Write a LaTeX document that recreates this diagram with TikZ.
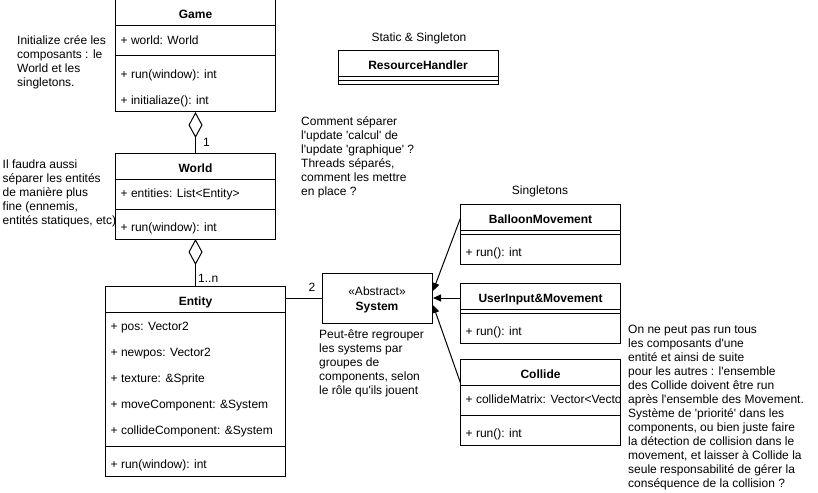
\documentclass[tikz,border=0pt]{standalone}
\usepackage{fontspec}
\newfontfamily\dfont{Liberation Sans}
\usetikzlibrary{arrows.meta}
\begin{document}
\begin{tikzpicture}[x=1pt,y=-1pt,
  font=\dfont\fontsize{12}{14}\selectfont,
  cls/.style={draw, line width=1pt, fill=white, inner sep=0pt, outer sep=0pt, anchor=north west},
  ttl/.style={font=\dfont\fontsize{12}{14}\selectfont\bfseries, inner sep=0pt, anchor=base},
  mem/.style={anchor=base west, inner sep=0pt},
  lbl/.style={inner sep=0pt, anchor=base},
  note/.style={align=left, anchor=west, inner sep=0pt},
  sepline/.style={line width=1pt},
  assoc/.style={line width=1pt},
  agg/.style={line width=1pt, {Diamond[open,length=26pt,width=14pt]}-},
  gen/.style={line width=1pt, -{Triangle[length=8pt,width=7pt]}}
]
\useasboundingbox (0,0) rectangle (818,492);

% Game
\node[cls, minimum width=160pt, minimum height=112pt] (game) at (115.5,0) {};
\draw[sepline] (115.5,26) -- (275.5,26);
\draw[sepline] (115.5,56) -- (275.5,56);
\node[ttl] (gameT) at (195.5,19) {Game};
\node[mem] (gameA1) at (120.5,44.3) {+ world: World};
\node[mem] (gameM1) at (120.5,78.3) {+ run(window): int};
\node[mem] (gameM2) at (120.5,104.3) {+ initialiaze(): int};

% World
\node[cls, minimum width=160pt, minimum height=86pt] (world) at (115.5,153) {};
\draw[sepline] (115.5,179) -- (275.5,179);
\draw[sepline] (115.5,209) -- (275.5,209);
\node[ttl] (worldT) at (195.5,172) {World};
\node[mem] (worldA1) at (120.5,197.3) {+ entities: List<Entity>};
\node[mem] (worldM1) at (120.5,231.3) {+ run(window): int};

% Entity
\node[cls, minimum width=180pt, minimum height=190pt] (entity) at (105.5,286.5) {};
\draw[sepline] (105.5,312.5) -- (285.5,312.5);
\draw[sepline] (105.5,446.5) -- (285.5,446.5);
\node[ttl] (entityT) at (195.5,305.5) {Entity};
\node[mem] (entA1) at (110.5,330.8) {+ pos: Vector2};
\node[mem] (entA2) at (110.5,356.8) {+ newpos: Vector2};
\node[mem] (entA3) at (110.5,382.8) {+ texture: \&Sprite};
\node[mem] (entA4) at (110.5,408.8) {+ moveComponent: \&System};
\node[mem] (entA5) at (110.5,434.8) {+ collideComponent: \&System};
\node[mem] (entM1) at (110.5,468.8) {+ run(window): int};

% System
\node[cls, minimum width=110pt, minimum height=50pt] (system) at (322,273) {};
\node[lbl] (sysS) at (377,295.5) {«Abstract»};
\node[ttl] (sysT) at (377,310) {System};

% ResourceHandler
\node[lbl] (rhLbl) at (419,42) {Static \& Singleton};
\node[cls, minimum width=160pt, minimum height=34pt] (rh) at (338,51) {};
\draw[sepline] (338,77) -- (498,77);
\draw[sepline] (338,81) -- (498,81);
\node[ttl] (rhT) at (418,70) {ResourceHandler};

% Singletons
\node[lbl] (sgLbl) at (540,194) {Singletons};

\node[cls, minimum width=160pt, minimum height=60pt] (balloon) at (460.5,204.5) {};
\draw[sepline] (460.5,230.5) -- (620.5,230.5);
\draw[sepline] (460.5,234.5) -- (620.5,234.5);
\node[ttl] (balloonT) at (540.5,223.5) {BalloonMovement};
\node[mem] (balloonM1) at (465.5,256.8) {+ run(): int};

\node[cls, minimum width=160pt, minimum height=60pt] (user) at (460.5,283) {};
\draw[sepline] (460.5,309) -- (620.5,309);
\draw[sepline] (460.5,313) -- (620.5,313);
\node[ttl] (userT) at (540.5,302) {UserInput\&Movement};
\node[mem] (userM1) at (465.5,335.3) {+ run(): int};

\node[cls, minimum width=160pt, minimum height=86pt] (collide) at (460.5,359) {};
\draw[sepline] (460.5,385) -- (620.5,385);
\draw[sepline] (460.5,415) -- (620.5,415);
\node[ttl] (collideT) at (540.5,378) {Collide};
\begin{scope}
  \clip (461,386) rectangle (620,414);
  \node[mem] (collideA1) at (465.5,403.3) {+ collideMatrix: Vector<Vecto};
\end{scope}
\node[mem] (collideM1) at (465.5,437.3) {+ run(): int};

% Connectors
\draw[agg] (game.south) -- (world.north);
\node[lbl, anchor=base west] (mult1) at (203,146) {1};
\draw[agg] (world.south) -- (entity.north);
\node[lbl, anchor=base west] (multn) at (198,282.5) {1..n};
\draw[assoc] (entity.east |- system.west) -- (system.west);
\node[lbl] (mult2) at (312,291.5) {2};

\coordinate (bH) at (460.5,218);
\coordinate (uH) at (460.5,298);
\coordinate (cH) at (460.5,383);
\coordinate (sA) at (433,291);
\coordinate (sB) at (433,298);
\coordinate (sC) at (433,305);
\draw[gen] (bH) -- (sA);
\draw[gen] (uH) -- (sB);
\draw[gen] (cH) -- (sC);

% Notes
\node[note] (n1) at (17,62) {Initialize crée les\\composants : le\\World et les\\singletons.};
\node[note] (n2) at (2.5,193.5) {Il faudra aussi\\séparer les entités\\de manière plus\\fine (ennemis,\\entités statiques, etc)};
\node[note] (n3) at (301,157) {Comment séparer\\l'update 'calcul' de\\l'update 'graphique' ?\\Threads séparés,\\comment les mettre\\en place ?};
\node[note] (n4) at (319,363.5) {Peut-être regrouper\\les systems par\\groupes de\\components, selon\\le rôle qu'ils jouent};
\node[note] (n5) at (628,408) {On ne peut pas run tous\\les composants d'une\\entité et ainsi de suite\\pour les autres : l'ensemble\\des Collide doivent être run\\après l'ensemble des Movement.\\Système de 'priorité' dans les\\components, ou bien juste faire\\la détection de collision dans le\\movement, et laisser à Collide la\\seule responsabilité de gérer la\\conséquence de la collision ?};
\end{tikzpicture}
\end{document}
